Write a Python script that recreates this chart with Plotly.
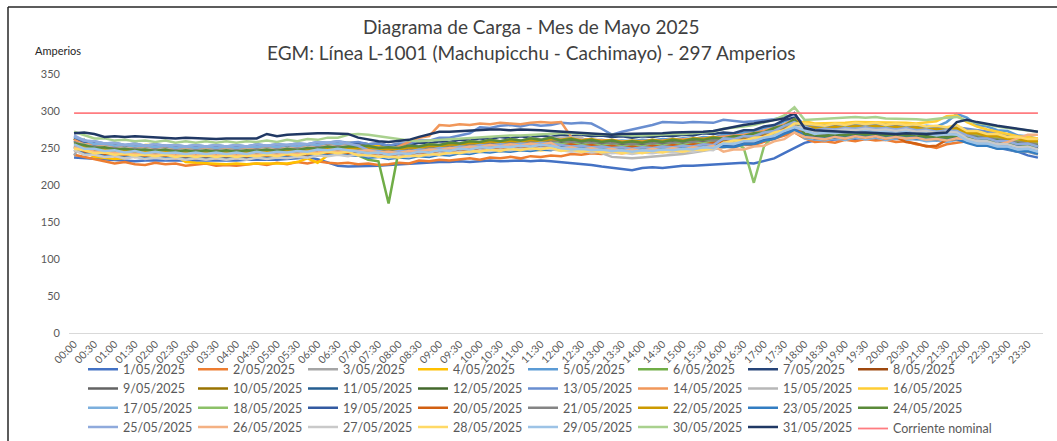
import plotly.graph_objects as go

TIMES = [
    "00:00","00:15","00:30","00:45","01:00","01:15","01:30","01:45",
    "02:00","02:15","02:30","02:45","03:00","03:15","03:30","03:45",
    "04:00","04:15","04:30","04:45","05:00","05:15","05:30","05:45",
    "06:00","06:15","06:30","06:45","07:00","07:15","07:30","07:45",
    "08:00","08:15","08:30","08:45","09:00","09:15","09:30","09:45",
    "10:00","10:15","10:30","10:45","11:00","11:15","11:30","11:45",
    "12:00","12:15","12:30","12:45","13:00","13:15","13:30","13:45",
    "14:00","14:15","14:30","14:45","15:00","15:15","15:30","15:45",
    "16:00","16:15","16:30","16:45","17:00","17:15","17:30","17:45",
    "18:00","18:15","18:30","18:45","19:00","19:15","19:30","19:45",
    "20:00","20:15","20:30","20:45","21:00","21:15","21:30","21:45",
    "22:00","22:15","22:30","22:45","23:00","23:15","23:30","23:45",
]
TICK_LABELS = [
    "00:00","00:30","01:00","01:30","02:00","02:30","03:00","03:30",
    "04:00","04:30","05:00","05:30","06:00","06:30","07:00","07:30",
    "08:00","08:30","09:00","09:30","10:00","10:30","11:00","11:30",
    "12:00","12:30","13:00","13:30","14:00","14:30","15:00","15:30",
    "16:00","16:30","17:00","17:30","18:00","18:30","19:00","19:30",
    "20:00","20:30","21:00","21:30","22:00","22:30","23:00","23:30",
]
DAY_NAMES = [f"{d}/05/2025" for d in range(1, 32)]
NOMINAL_NAME = "Corriente nominal"
NOMINAL_VALUE = 297

d01 = [237,236,235,234, 234,233,232,233, 233,232,232,233, 233,232,232,233, 233,234,234,233, 234,235,236,237,
       235,230,226,225, 225,226,226,227, 228,229,230,230, 231,231,232,231, 232,233,232,233, 233,232,233,232,
       231,230,228,227, 225,223,221,220, 223,224,223,225, 226,226,227,228, 229,229,230,229, 232,236,243,250,
       257,260,261,262, 262,263,262,263, 263,262,263,262, 261,262,262,261, 259,256,253,250, 248,245,240,237]
d02 = [241,238,234,231, 229,231,228,227, 230,228,229,226, 228,229,226,227, 226,228,229,227, 230,228,231,229,
       232,230,229,230, 228,229,227,228, 230,229,233,232, 234,233,235,236, 234,237,236,238, 236,239,238,240,
       239,242,241,243, 242,244,243,245, 246,245,247,246, 248,247,250,249, 252,251,254,254, 258,262,266,271,
       263,258,259,257, 261,259,262,260, 261,258,259,255, 253,250,255,257, 259,256,257,254, 255,252,251,249]
d03 = [240,261,246,241, 242,239,241,238, 240,237,239,236, 238,239,236,238, 237,239,238,240, 238,241,240,242,
       243,242,244,240, 241,238,239,237, 240,239,242,241, 243,242,245,243, 246,245,247,246, 248,247,249,248,
       249,247,248,245, 247,244,246,243, 246,245,247,246, 248,247,250,249, 253,252,256,256, 261,264,271,275,
       267,262,264,263, 265,264,266,264, 265,263,264,262, 263,260,262,261, 260,255,254,249, 249,245,245,241]
d04 = [263,245,238,236, 235,236,245,254, 254,253,240,231, 230,229,229,228, 229,228,229,229, 230,229,231,236,
       230,240,250,257, 256,255,254,250, 244,242,243,244, 244,245,245,246, 246,247,246,247, 247,248,247,248,
       247,246,246,245, 245,244,244,245, 245,244,245,246, 246,247,248,249, 251,253,256,259, 262,267,272,279,
       270,268,268,270, 270,271,270,271, 270,270,269,268, 267,266,266,267, 265,263,261,259, 257,255,253,251]
d05 = [263,257,257,253, 254,251,253,250, 252,250,251,249, 251,250,252,249, 251,249,252,250, 252,251,253,252,
       255,254,256,254, 254,250,251,248, 250,249,252,251, 254,253,256,255, 258,257,259,258, 260,259,261,260,
       263,261,262,260, 261,259,260,259, 261,260,262,261, 263,262,265,264, 268,267,271,271, 277,279,286,290,
       283,279,281,280, 282,281,283,281, 282,279,281,278, 280,279,285,296, 291,281,279,274, 273,267,266,261]
d06 = [259,254,254,250, 251,248,250,247, 249,247,248,246, 248,246,248,245, 248,246,249,247, 249,248,250,249,
       252,251,253,251, 240,234,232,175, 247,248,251,250, 253,252,255,254, 257,256,258,257, 259,258,260,259,
       259,259,258,258, 257,257,256,256, 256,257,257,258, 258,259,260,261, 263,264,266,268, 271,275,281,288,
       275,272,272,273, 273,274,273,273, 272,272,271,270, 269,268,268,269, 266,263,260,258, 255,253,252,250]
d07 = [263,257,257,254, 255,252,254,251, 253,251,252,250, 252,250,252,250, 252,250,253,251, 253,252,254,253,
       256,255,257,255, 257,255,256,253, 255,254,257,256, 259,258,261,260, 263,262,265,263, 266,264,267,265,
       268,266,268,266, 267,265,266,264, 266,265,267,266, 268,267,270,269, 271,270,274,274, 279,281,288,291,
       280,274,275,274, 276,275,277,275, 276,274,275,273, 274,271,273,272, 274,270,271,267, 267,263,263,260]
d08 = [251,246,246,243, 244,241,243,240, 242,240,241,239, 241,239,241,239, 241,239,242,240, 242,241,243,242,
       245,244,246,244, 247,244,245,242, 244,243,246,245, 248,247,250,249, 252,251,253,252, 254,253,255,254,
       257,255,256,254, 255,253,254,252, 254,253,255,254, 256,255,258,256, 259,258,262,262, 267,269,276,280,
       269,264,266,265, 267,266,268,266, 267,265,267,264, 265,262,264,263, 265,261,261,257, 257,253,254,250]
d09 = [254,253,249,250, 247,248,246,247, 245,247,244,246, 244,246,244,246, 244,246,245,247, 245,248,246,249,
       248,251,249,251, 247,248,245,246, 244,247,246,249, 248,251,250,253, 252,255,253,256, 254,257,255,258,
       257,259,256,258, 255,257,254,256, 254,257,255,258, 256,259,258,261, 260,263,263,267, 268,274,277,286,
       271,270,268,271, 269,272,270,272, 269,271,269,270, 267,268,266,269, 267,267,263,263, 259,259,256,256]
d10 = [252,250,246,247, 244,245,243,244, 242,244,241,243, 241,243,241,243, 241,243,242,244, 242,245,243,246,
       245,248,246,248, 244,244,241,242, 240,243,242,245, 244,247,246,249, 248,251,249,252, 250,253,251,254,
       254,256,253,255, 252,254,251,253, 251,254,252,255, 253,256,255,258, 258,261,261,265, 266,272,275,284,
       270,269,267,270, 268,271,269,271, 268,270,268,269, 266,267,265,268, 265,265,261,261, 257,257,254,254]
d11 = [260,254,254,251, 252,249,251,248, 250,248,249,247, 249,247,249,247, 249,247,250,248, 250,249,251,250,
       253,252,254,252, 251,248,249,246, 248,247,250,249, 252,251,254,253, 256,255,257,256, 258,257,259,258,
       261,259,260,258, 259,257,258,256, 258,257,259,258, 260,259,262,261, 262,261,265,265, 270,272,279,283,
       271,266,268,267, 269,268,270,268, 269,267,269,266, 267,264,266,265, 266,262,262,258, 258,254,255,251]
d12 = [253,250,251,248, 249,246,248,245, 247,245,246,244, 246,244,246,244, 246,244,247,245, 247,246,248,247,
       250,249,251,248, 245,239,239,240, 244,243,246,245, 248,247,250,249, 252,251,253,252, 254,253,255,254,
       261,259,260,258, 259,257,258,256, 258,257,259,258, 260,259,262,260, 263,262,266,266, 271,273,280,285,
       270,265,267,266, 268,267,269,267, 268,266,268,265, 266,263,265,264, 267,263,263,259, 259,255,256,252]
d13 = [265,259,259,256, 257,254,256,253, 255,253,254,252, 254,252,254,252, 254,252,255,253, 255,254,256,255,
       258,257,259,257, 258,255,256,253, 256,256,260,260, 264,264,267,270, 278,277,280,281, 279,282,280,281,
       284,283,284,283, 276,268,272,275, 277,281,285,284, 284,285,284,284, 288,286,285,286, 287,289,292,295,
       280,279,279,280, 280,281,281,281, 280,280,279,279, 278,277,277,278, 276,274,272,270, 268,266,265,263]
d14 = [261,255,255,252, 253,250,252,249, 251,249,250,248, 250,248,250,248, 250,248,251,249, 251,250,252,251,
       254,253,255,253, 253,250,251,248, 252,258,264,266, 281,280,282,281, 283,282,284,283, 282,284,285,284,
       285,265,262,261, 260,260,259,259, 259,260,260,261, 261,262,263,264, 265,266,268,270, 273,277,282,289,
       277,272,274,273, 275,274,276,274, 275,273,275,272, 273,270,272,271, 272,268,268,264, 264,260,261,257]
d15 = [257,255,251,252, 249,250,248,249, 247,249,246,248, 246,248,246,248, 246,248,247,249, 247,250,248,251,
       250,253,251,253, 251,252,249,251, 250,253,252,255, 254,257,256,259, 258,261,259,262, 260,263,262,264,
       264,265,265,250, 243,238,237,236, 237,238,239,240, 242,244,246,248, 250,252,255,258, 262,266,272,279,
       272,269,270,271, 271,272,272,272, 271,271,271,270, 269,268,268,269, 266,262,259,256, 253,250,247,244]
d16 = [251,245,245,242, 243,240,242,239, 241,239,240,238, 240,238,240,238, 240,238,241,239, 241,240,242,241,
       244,243,245,243, 244,241,242,239, 241,240,243,242, 245,244,247,246, 249,248,250,249, 251,250,252,251,
       251,249,250,248, 249,247,248,246, 248,247,249,248, 250,249,252,251, 258,257,261,261, 266,268,275,280,
       286,283,283,284, 284,285,285,285, 284,284,284,283, 284,286,293,294, 285,279,275,272, 269,266,265,263]
d17 = [265,261,255,256, 253,254,252,253, 251,253,250,252, 250,252,250,252, 250,252,251,253, 251,254,252,255,
       254,257,255,257, 250,251,248,249, 247,250,249,252, 251,254,253,256, 255,258,256,259, 257,260,258,261,
       253,255,252,254, 251,253,250,252, 250,253,251,254, 250,253,252,255, 254,257,257,261, 262,268,271,280,
       263,262,260,263, 261,264,262,264, 261,263,261,262, 259,260,258,261, 259,259,255,255, 251,251,248,248]
d18 = [253,251,247,248, 245,246,244,245, 243,245,242,244, 242,244,242,244, 242,244,243,245, 243,246,244,247,
       246,249,247,249, 246,247,244,245, 245,248,247,250, 249,252,251,254, 253,256,254,257, 255,258,256,259,
       255,257,254,256, 253,255,252,254, 252,255,253,256, 254,257,256,259, 259,258,250,203, 252,268,277,284,
       279,276,276,277, 277,278,278,278, 277,277,277,276, 275,274,274,275, 270,268,266,264, 262,260,259,257]
d19 = [252,247,247,244, 245,242,244,241, 243,241,242,240, 242,240,242,240, 242,240,243,241, 243,242,244,243,
       246,245,247,245, 244,241,242,239, 241,240,243,242, 245,244,247,246, 249,248,250,249, 251,250,252,251,
       253,251,252,250, 251,249,250,248, 250,249,251,250, 252,251,254,253, 254,253,257,257, 262,264,271,276,
       269,264,266,265, 267,266,268,266, 267,265,267,264, 265,262,264,263, 263,259,259,255, 255,251,252,248]
d20 = [247,245,241,242, 239,240,238,239, 237,239,236,238, 236,238,236,238, 236,238,237,239, 237,240,238,241,
       240,243,241,243, 242,243,240,241, 239,242,241,244, 243,246,245,248, 247,250,248,251, 249,252,250,253,
       253,255,252,254, 251,253,250,252, 250,253,251,254, 252,255,254,257, 258,261,261,265, 266,272,275,284,
       265,264,262,265, 263,266,264,266, 263,265,258,256, 252,253,261,262, 265,265,261,261, 257,257,254,254]
d21 = [258,252,252,249, 250,247,249,246, 248,246,247,245, 247,245,247,245, 247,245,248,246, 248,247,249,248,
       251,250,252,250, 252,249,250,247, 249,248,251,250, 253,252,255,254, 257,256,258,257, 259,258,260,259,
       260,258,259,257, 258,256,257,255, 257,256,258,257, 259,258,261,260, 262,261,265,265, 270,272,279,284,
       275,270,272,271, 273,272,274,272, 273,271,273,270, 271,268,270,269, 269,265,265,261, 261,257,258,254]
d22 = [254,252,248,249, 246,247,245,246, 244,246,243,245, 243,245,243,245, 243,245,244,246, 244,247,245,248,
       247,250,248,250, 250,251,248,249, 248,251,250,253, 252,255,254,257, 256,259,257,260, 258,261,259,262,
       261,263,260,262, 259,261,258,260, 258,261,259,262, 260,263,262,265, 262,265,265,269, 270,276,279,288,
       279,278,276,279, 277,280,278,280, 277,279,277,278, 275,276,274,277, 270,270,266,266, 262,262,259,259]
d23 = [248,242,242,239, 240,237,239,236, 238,236,237,235, 237,235,237,235, 237,235,238,236, 238,237,239,238,
       241,240,242,240, 240,237,238,235, 237,236,239,238, 241,240,243,242, 245,244,246,245, 247,246,248,247,
       251,249,250,248, 249,247,248,246, 248,247,249,248, 250,249,252,251, 252,251,255,255, 260,262,269,274,
       268,263,265,264, 266,265,267,265, 266,264,266,263, 264,261,263,262, 257,253,253,249, 249,245,246,242]
d24 = [256,254,250,251, 248,249,247,248, 246,248,245,247, 245,247,245,247, 245,247,246,248, 246,249,247,250,
       249,252,250,252, 252,253,250,251, 250,253,252,255, 254,257,256,259, 258,261,259,262, 260,263,261,264,
       260,262,259,261, 258,260,257,259, 257,260,258,261, 259,262,261,264, 263,266,266,270, 271,277,280,289,
       269,268,266,269, 267,270,268,270, 267,269,267,268, 265,266,264,267, 264,264,260,260, 256,256,253,253]
d25 = [267,260,259,256, 257,254,256,253, 255,253,254,252, 254,252,254,252, 254,252,255,253, 255,254,256,255,
       258,257,259,256, 253,247,246,243, 246,245,248,247, 250,249,252,251, 254,253,255,254, 256,255,257,256,
       254,252,253,251, 252,250,251,249, 251,250,252,251, 253,252,255,254, 263,262,266,266, 271,273,280,285,
       279,274,276,275, 277,276,278,276, 277,275,277,274, 275,272,274,273, 267,263,263,259, 259,255,256,252]
d26 = [251,249,245,246, 243,244,242,243, 241,243,240,242, 240,242,240,242, 240,242,241,243, 241,244,242,245,
       244,247,245,247, 246,247,244,245, 243,246,245,248, 247,250,249,252, 251,254,252,255, 253,256,254,257,
       249,251,248,250, 247,249,246,248, 246,249,247,250, 248,251,250,253, 245,248,248,252, 253,259,262,271,
       265,264,262,265, 263,266,264,266, 263,265,263,264, 261,262,260,263, 262,259,256,254, 258,263,268,268]
d27 = [247,241,241,238, 239,236,238,235, 237,235,236,234, 236,234,236,234, 236,234,237,235, 237,236,238,237,
       240,239,241,239, 242,239,240,237, 239,238,241,240, 243,242,245,244, 247,246,248,247, 249,248,250,249,
       247,245,246,244, 245,243,244,242, 244,243,245,244, 246,245,248,247, 257,256,260,260, 265,267,274,279,
       277,272,274,273, 275,274,276,274, 275,273,275,272, 273,270,272,271, 263,259,259,255, 255,251,252,248]
d28 = [249,247,243,244, 241,242,240,241, 239,241,238,240, 238,240,238,240, 238,240,239,241, 239,242,240,243,
       242,245,243,245, 240,241,238,239, 237,240,239,242, 241,244,243,246, 245,248,246,249, 247,250,248,251,
       246,248,245,247, 244,246,243,245, 243,246,244,247, 245,248,247,250, 257,260,260,264, 265,271,274,283,
       283,282,280,283, 281,284,282,284, 281,283,281,282, 279,280,278,281, 273,273,269,269, 265,265,262,262]
d29 = [255,249,249,246, 247,244,246,243, 245,243,244,242, 244,242,244,242, 244,242,245,243, 245,244,246,245,
       248,247,249,247, 246,243,244,241, 243,242,245,244, 247,246,249,248, 251,250,252,251, 253,252,254,253,
       250,248,249,247, 248,246,247,245, 247,246,248,247, 249,248,251,250, 256,255,259,259, 264,266,273,278,
       274,269,271,270, 272,271,273,271, 272,270,272,269, 270,267,269,268, 260,256,256,252, 252,248,249,245]
d30 = [272,267,263,263, 260,261,259,260, 258,260,257,259, 257,259,257,259, 257,259,258,260, 258,261,259,262,
       261,264,264,268, 269,268,266,264, 261,260,259,260, 261,262,263,264, 265,266,266,267, 267,268,268,269,
       270,270,269,269, 268,268,267,267, 267,268,268,269, 269,270,271,272, 276,277,279,281, 284,288,294,305,
       288,289,290,291, 291,292,291,292, 290,290,289,289, 288,290,291,292, 287,284,281,279, 277,275,274,272]
d31 = [270,271,269,265, 266,265,266,265, 264,264,263,264, 263,263,262,263, 263,264,263,269, 266,268,269,270,
       270,270,270,269, 264,261,259,258, 259,261,265,268, 272,272,273,274, 274,275,275,274, 275,275,274,273,
       272,272,271,270, 269,268,269,269, 270,270,270,271, 271,272,272,273, 276,278,281,283, 285,287,290,297,
       277,274,273,272, 272,271,271,270, 270,269,270,269, 269,270,271,285, 288,285,282,280, 278,276,274,272]

SERIES = [d01, d02, d03, d04, d05, d06, d07, d08, d09, d10, d11, d12, d13, d14, d15, d16,
          d17, d18, d19, d20, d21, d22, d23, d24, d25, d26, d27, d28, d29, d30, d31]

COLORS = ["#4472C4", "#ED7D31", "#A5A5A5", "#FFC000", "#5B9BD5", "#70AD47",
          "#264478", "#9E480E", "#636363", "#997300", "#255E91", "#43682B",
          "#698ED0", "#F1975A", "#B7B7B7", "#FFCD33", "#7CAFDD", "#8CC168",
          "#335AA1", "#D26012", "#848484", "#CC9A00", "#327DC2", "#5A8A39",
          "#8FAADC", "#F4B183", "#C9C9C9", "#FFD966", "#9DC3E6", "#A9D18E",
          "#203864"]
NOMINAL_COLOR = "#FF7C80"

for s in SERIES:
    assert len(s) == len(TIMES), len(s)

FONT = "Lato, 'Open Sans', sans-serif"
W, H = 1057, 441
ML, MR, MT, MB = 69, 14, 74, 108
PW, PH = W - ML - MR, H - MT - MB


def px_x(px):
    return (px - ML) / PW


def px_y(py):
    return (H - MB - py) / PH


LEG_LEFT = 83       # legend box left (px)
LEG_TOP = 354.5     # legend box top (px)
ENTRY_W = 65        # -> column pitch ~110 px, 8 columns
LEG_PITCH = 110
LEG_FONT = 12.5

fig = go.Figure()
for name, vals, col in zip(DAY_NAMES, SERIES, COLORS):
    fig.add_trace(go.Scatter(x=TIMES, y=vals, mode="lines", name=name,
                             line=dict(color=col, width=2.5)))
fig.add_trace(go.Scatter(x=TIMES, y=[NOMINAL_VALUE] * len(TIMES), mode="lines",
                         name=NOMINAL_NAME, showlegend=False,
                         line=dict(color=NOMINAL_COLOR, width=1.8)))

# legend entry for the nominal line (8th column, 4th row), drawn by hand so
# its long label is not clipped by the fixed entry width
NOM_TEXT_X = LEG_LEFT + 40 + 7 * LEG_PITCH
NOM_ITEM_Y = 428.5

fig.update_layout(
    width=W, height=H,
    margin=dict(l=ML, r=MR, t=MT, b=MB, pad=0, autoexpand=False),
    paper_bgcolor="white", plot_bgcolor="white",
    font=dict(family=FONT, color="#595959"),
    showlegend=True,
    legend=dict(orientation="h", x=px_x(LEG_LEFT), xanchor="left",
                y=px_y(LEG_TOP), yanchor="top",
                entrywidth=ENTRY_W, entrywidthmode="pixels",
                font=dict(family=FONT, size=LEG_FONT, color="#595959"),
                bgcolor="rgba(0,0,0,0)", itemwidth=30, traceorder="normal"),
    xaxis=dict(type="category", categoryorder="array", categoryarray=TIMES,
               range=[-0.5, len(TIMES) - 0.5],
               tickmode="array", tickvals=TICK_LABELS, ticktext=TICK_LABELS,
               tickangle=-45, tickfont=dict(family=FONT, size=10.5, color="#595959"),
               showgrid=False, zeroline=False, showline=True, linecolor="#D9D9D9",
               linewidth=1, ticks=""),
    yaxis=dict(range=[0, 350], dtick=50, tick0=0, showgrid=False, zeroline=False,
               showline=False, ticks="", ticklabelstandoff=8,
               tickfont=dict(family=FONT, size=11, color="#595959")),
    annotations=[
        dict(text="Diagrama de Carga - Mes de Mayo 2025", x=px_x(531), y=px_y(27),
             xref="paper", yref="paper", xanchor="center", yanchor="middle",
             showarrow=False, font=dict(family=FONT, size=19, color="#404040")),
        dict(text="EGM: Línea L-1001 (Machupicchu - Cachimayo) - 297 Amperios",
             x=px_x(531), y=px_y(53), xref="paper", yref="paper",
             xanchor="center", yanchor="middle", showarrow=False,
             font=dict(family=FONT, size=19, color="#404040")),
        dict(text="Amperios", x=px_x(33), y=px_y(51), xref="paper", yref="paper",
             xanchor="left", yanchor="middle", showarrow=False,
             font=dict(family=FONT, size=11, color="#262626")),
        dict(text=NOMINAL_NAME, x=px_x(NOM_TEXT_X), y=px_y(NOM_ITEM_Y),
             xref="paper", yref="paper", xanchor="left", yanchor="middle",
             showarrow=False, xshift=-2,
             font=dict(family=FONT, size=LEG_FONT, color="#595959")),
    ],
    shapes=[
        dict(type="line", xref="paper", yref="paper", x0=px_x(8), x1=px_x(1060),
             y0=px_y(7), y1=px_y(7), line=dict(color="#262626", width=1.5)),
        dict(type="line", xref="paper", yref="paper", x0=px_x(8), x1=px_x(8),
             y0=px_y(7), y1=px_y(445), line=dict(color="#262626", width=1.5)),
        dict(type="line", xref="paper", yref="paper",
             x0=px_x(NOM_TEXT_X - 35), x1=px_x(NOM_TEXT_X - 5),
             y0=px_y(NOM_ITEM_Y), y1=px_y(NOM_ITEM_Y),
             line=dict(color=NOMINAL_COLOR, width=1.8)),
    ],
)

fig.write_html("out.html",
               config={"displayModeBar": False},
               post_script="document.body.style.margin='0';"
                           "document.body.style.overflow='hidden';")
